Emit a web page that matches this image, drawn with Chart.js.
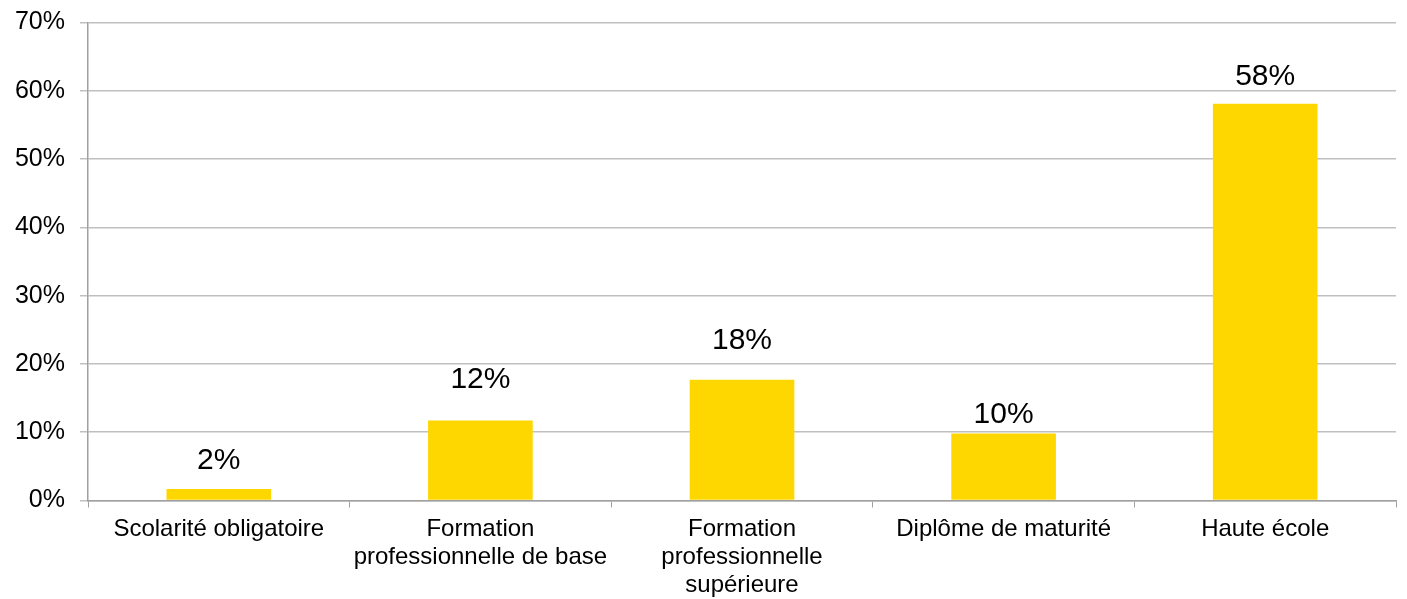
<!DOCTYPE html>
<html>
<head>
<meta charset="utf-8">
<script src="https://cdn.jsdelivr.net/npm/chart.js@4.4.1/dist/chart.umd.min.js"></script>
<style>
    html, body { margin: 0; padding: 0; background: #fff; }
    #wrap { width: 1407px; height: 599px; }
</style>
</head>
<body>
<div id="wrap"><canvas id="chart" width="1407" height="599"></canvas></div>
<script>
const categories = [
    'Scolarité obligatoire',
    ['Formation', 'professionnelle de base'],
    ['Formation', 'professionnelle', 'supérieure'],
    'Diplôme de maturité',
    'Haute école',
];
const shares = [1.7, 11.7, 17.7, 9.8, 58.1];
const yTicks = [0, 10, 20, 30, 40, 50, 60, 70];

const fontFamily = "'Liberation Sans', Arial, sans-serif";

// value labels above the bars, placed by hand like in the original sheet
const valueLabels = {
    id: 'valueLabels',
    afterDatasetsDraw(chart, args, opts) {
        const ctx = chart.ctx;
        const meta = chart.getDatasetMeta(0);
        ctx.save();
        ctx.font = `30px ${fontFamily}`;
        ctx.fillStyle = '#000';
        ctx.textAlign = 'center';
        ctx.textBaseline = 'alphabetic';
        meta.data.forEach((bar, i) => {
            const v = chart.data.datasets[0].data[i];
            ctx.fillText(Math.round(v) + '%', bar.x, bar.y - opts.lift[i]);
        });
        ctx.restore();
    },
};

new Chart(document.getElementById('chart').getContext('2d'), {
    type: 'bar',
    data: {
        labels: categories,
        datasets: [
            {
                data: shares,
                backgroundColor: '#FFD700',
                borderWidth: 0,
                barPercentage: 0.4,
                categoryPercentage: 1,
            },
        ],
    },
    plugins: [valueLabels],
    options: {
        responsive: false,
        animation: false,
        layout: {
            padding: { top: 22.5, right: 11, left: 0, bottom: 0 },
        },
        plugins: {
            legend: { display: false },
            tooltip: { enabled: false },
            valueLabels: { lift: [20, 33, 31, 11, 19] },
        },
        scales: {
            x: {
                afterFit: scale => {
                    scale.height = 98.5;
                    scale.paddingLeft = 0;
                    scale.paddingRight = 0;
                },
                ticks: {
                    color: '#000',
                    font: { family: fontFamily, size: 24, lineHeight: 1.17 },
                    padding: 8,
                    maxRotation: 0,
                    autoSkip: false,
                },
                grid: {
                    offset: true,
                    drawOnChartArea: false,
                    drawTicks: true,
                    tickLength: 7,
                    tickColor: '#A0A0A0',
                },
                border: { color: '#A0A0A0', width: 1.5 },
            },
            y: {
                min: 0,
                max: 70,
                afterFit: scale => {
                    scale.width = 88;
                    scale.paddingTop = 0;
                    scale.paddingBottom = 0;
                },
                afterBuildTicks: scale => {
                    scale.ticks = yTicks.map(v => ({ value: v }));
                },
                ticks: {
                    color: '#000',
                    font: { family: fontFamily, size: 25 },
                    padding: 15,
                    callback: v => v + '%',
                },
                grid: {
                    color: '#C0C0C0',
                    lineWidth: 1.5,
                    tickLength: 8,
                    tickColor: '#C0C0C0',
                },
                border: { color: '#A0A0A0', width: 1.5 },
            },
        },
    },
});
</script>
</body>
</html>
